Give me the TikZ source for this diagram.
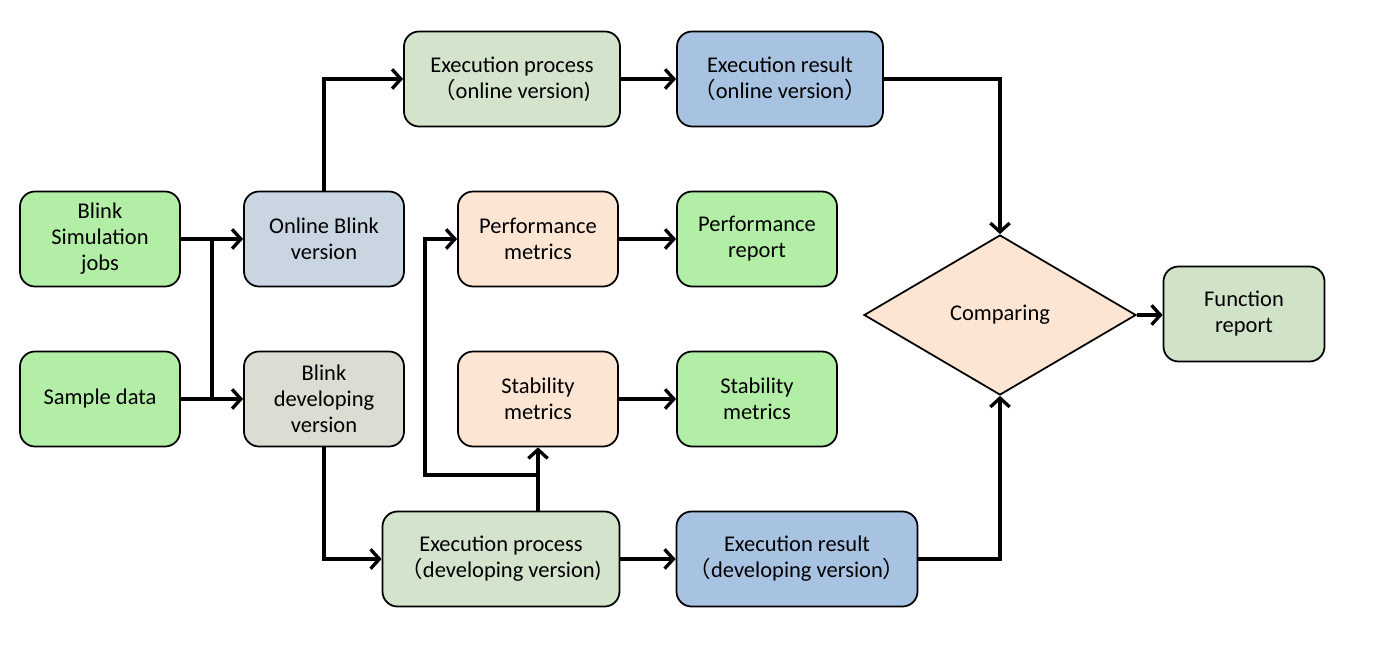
\documentclass[tikz,border=0pt]{standalone}
\usepackage{fontspec}
\setmainfont{Carlito}
\newfontfamily\cjk{Noto Sans CJK SC}
\newcommand{\lpar}{{\cjk （}}
\newcommand{\rpar}{{\cjk ）}}
\usetikzlibrary{arrows.meta,shapes.geometric}
\definecolor{cgreen}{HTML}{B3EEA6}
\definecolor{conline}{HTML}{C9D6E2}
\definecolor{cdevel}{HTML}{DADDD2}
\definecolor{cproc}{HTML}{D4E3CC}
\definecolor{cres}{HTML}{A7C3E1}
\definecolor{cpeach}{HTML}{FCE5D3}
\definecolor{cfunc}{HTML}{D0E2C8}
\tikzset{
	box/.style={draw, line width=1pt, rounded corners=0.3cm, align=center,
		minimum width=3.2cm, minimum height=1.9cm, inner sep=2pt,
		font=\fontsize{12.8}{14.8}\selectfont},
	arr/.style={line width=1.9pt, -{Straight Barb[length=5pt,width=11pt]}},
	link/.style={line width=1.9pt}
}
\begin{document}
\begin{tikzpicture}
	\useasboundingbox (0,0) rectangle (28,13.3);
	% inputs
	\node[box, fill=cgreen] (jobs) at (2.0,8.52) {Blink\\Simulation\\jobs};
	\node[box, fill=cgreen] (sample) at (2.0,5.32) {Sample data};
	% versions
	\node[box, fill=conline] (online) at (6.48,8.52) {Online Blink\\version};
	\node[box, fill=cdevel] (devel) at (6.48,5.32) {Blink\\developing\\version};
	% execution
	\node[box, fill=cproc, minimum width=4.32cm] (eponl) at (10.24,11.72) {Execution process\\\lpar online version)};
	\node[box, fill=cres, minimum width=4.12cm] (eronl) at (15.6,11.72) {Execution result\\\lpar online version\rpar};
	\node[box, fill=cproc, minimum width=4.74cm] (epdev) at (10.02,2.12) {Execution process\\\lpar developing version)};
	\node[box, fill=cres, minimum width=4.82cm] (erdev) at (15.94,2.12) {Execution result\\\lpar developing version\rpar};
	% metrics
	\node[box, fill=cpeach] (perfm) at (10.76,8.52) {Performance\\metrics};
	\node[box, fill=cgreen] (perfr) at (15.14,8.52) {Performance\\report};
	\node[box, fill=cpeach] (stabm) at (10.76,5.32) {Stability\\metrics};
	\node[box, fill=cgreen] (stabr) at (15.14,5.32) {Stability\\metrics};
	% comparing
	\node[draw, line width=1pt, diamond, aspect=1.7, fill=cpeach, inner sep=0pt,
		minimum width=5.44cm, minimum height=3.2cm,
		font=\fontsize{12.8}{14.8}\selectfont] (cmp) at (20.0,7.0) {Comparing};
	\node[box, fill=cfunc, minimum width=3.22cm] (func) at (24.88,7.02) {Function\\report};

	\coordinate (split) at (4.24,0);
	\coordinate (fork) at (8.5,3.8);

	\draw[arr] (jobs) -- (online);
	\draw[arr] (sample) -- (devel);
	\draw[link] (jobs -| split) -- (sample -| split);
	\draw[arr] (online.north) |- (eponl.west);
	\draw[arr] (devel.south) |- (epdev.west);
	\draw[arr] (eponl) -- (eronl);
	\draw[arr] (epdev) -- (erdev);
	\draw[arr] (eronl.east) -| (cmp.north);
	\draw[arr] (erdev.east) -| (cmp.south);
	\draw[arr] (cmp.east) -- (cmp.east -| func.west);
	\draw[arr] (stabm |- epdev.north) -- (stabm.south);
	\draw[arr] (stabm |- fork) -- (fork) |- (perfm.west);
	\draw[arr] (perfm) -- (perfr);
	\draw[arr] (stabm) -- (stabr);
\end{tikzpicture}
\end{document}
